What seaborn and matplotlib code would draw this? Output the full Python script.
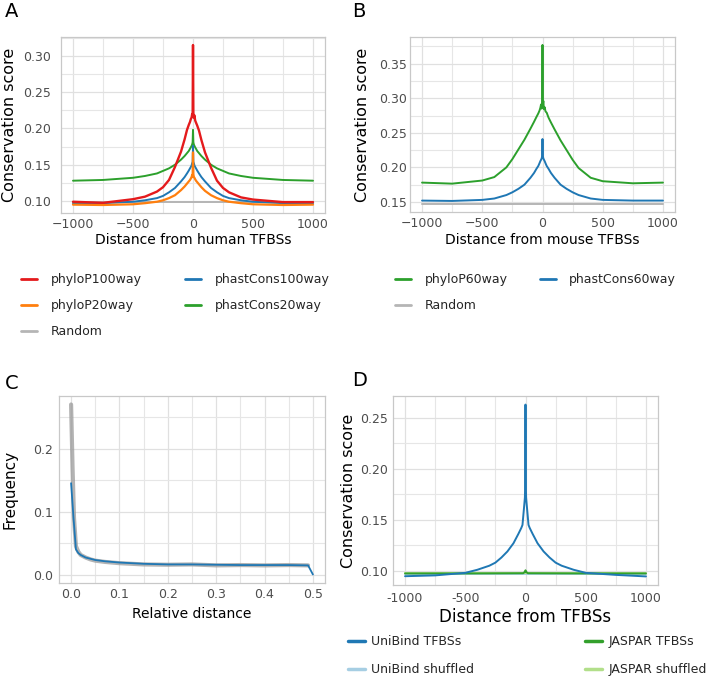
import numpy as np
import pandas as pd
import seaborn as sns
import matplotlib.pyplot as plt
from matplotlib.lines import Line2D
from matplotlib.ticker import MultipleLocator, AutoMinorLocator

# ---- data ----
# panel A / B: distance (bp) from TFBS
A_X = [-1000, -750, -500, -400, -300, -250, -200, -150, -100, -70, -50, -35, -25, -18, -12, -7, -3, 0,
       3, 7, 12, 18, 25, 35, 50, 70, 100, 150, 200, 250, 300, 400, 500, 750, 1000]
A_PHYLOP100 = [0.099, 0.0975, 0.1025, 0.106, 0.113, 0.119, 0.129, 0.147, 0.168, 0.185, 0.198, 0.205, 0.209, 0.213,
               0.215, 0.220, 0.216, 0.315, 0.222, 0.215, 0.218, 0.211, 0.208, 0.204, 0.197, 0.184, 0.167, 0.146,
               0.128, 0.118, 0.112, 0.105, 0.102, 0.0985, 0.0985]
A_PHYLOP20 = [0.095, 0.0945, 0.0955, 0.097, 0.099, 0.101, 0.104, 0.108, 0.115, 0.120, 0.124, 0.127, 0.129, 0.131,
              0.133, 0.136, 0.133, 0.167, 0.137, 0.133, 0.132, 0.130, 0.128, 0.126, 0.123, 0.119, 0.114, 0.108,
              0.104, 0.101, 0.099, 0.097, 0.0955, 0.0945, 0.095]
A_PHASTCONS100 = [0.097, 0.097, 0.099, 0.101, 0.104, 0.107, 0.112, 0.118, 0.127, 0.133, 0.138, 0.142, 0.145, 0.147,
                  0.149, 0.152, 0.154, 0.176, 0.154, 0.152, 0.149, 0.147, 0.145, 0.142, 0.138, 0.133, 0.127, 0.118,
                  0.112, 0.107, 0.104, 0.101, 0.099, 0.097, 0.097]
A_PHASTCONS20 = [0.128, 0.129, 0.132, 0.1345, 0.138, 0.1415, 0.145, 0.150, 0.157, 0.162, 0.166, 0.169, 0.172, 0.174,
                 0.176, 0.178, 0.181, 0.198, 0.181, 0.178, 0.176, 0.174, 0.172, 0.169, 0.166, 0.162, 0.157, 0.150,
                 0.145, 0.1415, 0.138, 0.1345, 0.132, 0.129, 0.128]
RANDOM_X = [-1000, -500, 0, 500, 1000]
A_RANDOM = [0.0985, 0.0985, 0.0985, 0.0985, 0.0985]

B_PHYLOP60 = [0.178, 0.1765, 0.181, 0.186, 0.200, 0.212, 0.226, 0.240, 0.256, 0.266, 0.273, 0.278, 0.282, 0.286,
              0.291, 0.285, 0.294, 0.377, 0.290, 0.296, 0.284, 0.287, 0.281, 0.279, 0.272, 0.265, 0.255, 0.239,
              0.225, 0.211, 0.199, 0.185, 0.180, 0.177, 0.178]
B_PHASTCONS60 = [0.152, 0.1515, 0.153, 0.155, 0.160, 0.164, 0.169, 0.175, 0.185, 0.192, 0.198, 0.202, 0.206, 0.209,
                 0.211, 0.213, 0.216, 0.241, 0.216, 0.213, 0.211, 0.209, 0.206, 0.202, 0.198, 0.192, 0.185, 0.175,
                 0.169, 0.164, 0.160, 0.155, 0.153, 0.152, 0.152]
B_RANDOM = [0.147, 0.147, 0.147, 0.147, 0.147]

# panel C: relative distance
C_X = [0.0, 0.005, 0.01, 0.015, 0.02, 0.03, 0.04, 0.05, 0.07, 0.1, 0.15, 0.2, 0.25, 0.3, 0.35, 0.4, 0.45, 0.49, 0.5]
C_OBSERVED = [0.145, 0.09, 0.04, 0.034, 0.031, 0.027, 0.025, 0.023, 0.021, 0.019, 0.017, 0.016, 0.016, 0.0155,
              0.015, 0.015, 0.015, 0.0145, 0.0]
C_RANDOM_X = [0.0, 0.003, 0.006, 0.01, 0.015, 0.02, 0.03, 0.04, 0.05, 0.07, 0.1, 0.15, 0.2, 0.25, 0.3, 0.35, 0.4,
              0.45, 0.49]
C_RANDOM = [0.27, 0.17, 0.09, 0.045, 0.036, 0.031, 0.027, 0.024, 0.022, 0.020, 0.018, 0.016, 0.0155, 0.016,
            0.0145, 0.015, 0.0145, 0.015, 0.0145]

# panel D
D_X = [-1000, -750, -500, -400, -300, -250, -200, -150, -100, -60, -35, -25, -10, -5, -2, 0,
       2, 5, 10, 25, 35, 60, 100, 150, 200, 250, 300, 400, 500, 750, 1000]
D_UNIBIND = [0.0947, 0.0955, 0.098, 0.101, 0.105, 0.108, 0.113, 0.119, 0.127, 0.136, 0.142, 0.145, 0.165, 0.172,
             0.19, 0.263, 0.19, 0.172, 0.165, 0.145, 0.142, 0.136, 0.127, 0.119, 0.113, 0.108, 0.105, 0.101,
             0.098, 0.096, 0.0945]
D_JASPAR_X = [-1000, -500, -20, -5, 0, 5, 20, 500, 1000]
D_JASPAR = [0.0974, 0.0974, 0.0976, 0.099, 0.1005, 0.099, 0.0976, 0.0974, 0.0974]
D_UNIBIND_SHUF = [0.0968, 0.0968, 0.0968, 0.0968, 0.0968]
D_JASPAR_SHUF = [0.0978, 0.0978, 0.0978, 0.0978, 0.0978]
D_XTICKS = [-1000, -500, 0, 500, 1000]
D_XTICKLABELS = ['-1000', '-500', '0', '500', '1000']

RED, ORANGE, BLUE, GREEN, GREY = '#e41a1c', '#ff7f0e', '#1f77b4', '#2ca02c', '#b5b5b5'

sns.set_theme(style='whitegrid')
plt.rcParams['font.family'] = ['DejaVu Sans']

fig = plt.figure(figsize=(7.09, 6.78), dpi=100)
W, H = 709, 678


def add_ax(left, top, right, bottom):
    return fig.add_axes([left / W, 1 - bottom / H, (right - left) / W, (bottom - top) / H])


def style(ax, ypad, xpad=3.6):
    ax.set_facecolor('white')
    for s in ax.spines.values():
        s.set_color('#c8c8c8')
        s.set_linewidth(0.9)
    ax.xaxis.set_minor_locator(AutoMinorLocator(2))
    ax.yaxis.set_minor_locator(AutoMinorLocator(2))
    ax.grid(which='major', color='#e0e0e0', lw=0.9)
    ax.grid(which='minor', color='#e6e6e6', lw=0.8)
    ax.tick_params(which='both', length=0, labelsize=9, colors='#4d4d4d')
    ax.tick_params(axis='y', pad=ypad)
    ax.tick_params(axis='x', pad=xpad)
    ax.set_axisbelow(True)


def line(ax, x, y, color, lw=1.4, **kw):
    sns.lineplot(x=x, y=y, ax=ax, color=color, lw=lw, estimator=None, sort=False, **kw)


# ---- A ----
axA = add_ax(61, 37, 325, 213)
line(axA, RANDOM_X, A_RANDOM, GREY)
line(axA, A_X, A_PHASTCONS20, GREEN)
line(axA, A_X, A_PHASTCONS100, BLUE)
line(axA, A_X, A_PHYLOP20, ORANGE, lw=1.6)
line(axA, A_X, A_PHYLOP100, RED, lw=1.7)
style(axA, ypad=7.5)
axA.xaxis.set_major_locator(MultipleLocator(500))
axA.yaxis.set_major_locator(MultipleLocator(0.05))
axA.yaxis.set_minor_locator(AutoMinorLocator(2))
axA.xaxis.set_minor_locator(AutoMinorLocator(2))
axA.set_xlabel('Distance from human TFBSs', fontsize=10, color='black')
axA.set_ylabel('Conservation score', fontsize=11.5, color='black')
axA.xaxis.set_label_coords(0.5, -0.114)
axA.yaxis.set_label_coords(-0.165, 0.5)

# ---- B ----
axB = add_ax(410, 37, 675, 212)
line(axB, RANDOM_X, B_RANDOM, GREY)
line(axB, A_X, B_PHASTCONS60, BLUE)
line(axB, A_X, B_PHYLOP60, GREEN)
style(axB, ypad=2)
axB.xaxis.set_major_locator(MultipleLocator(500))
axB.yaxis.set_major_locator(MultipleLocator(0.05))
axB.yaxis.set_minor_locator(AutoMinorLocator(2))
axB.xaxis.set_minor_locator(AutoMinorLocator(2))
axB.set_xlabel('Distance from mouse TFBSs', fontsize=10, color='black')
axB.set_ylabel('Conservation score', fontsize=11.5, color='black')
axB.xaxis.set_label_coords(0.5, -0.12)
axB.yaxis.set_label_coords(-0.15, 0.5)

# ---- C ----
axC = add_ax(59, 396, 325, 583)
line(axC, C_RANDOM_X, C_RANDOM, '#9a9a9a', lw=3.0, alpha=0.75)
line(axC, C_X, C_OBSERVED, BLUE, lw=1.3)
style(axC, ypad=4.5)
axC.xaxis.set_major_locator(MultipleLocator(0.1))
axC.yaxis.set_major_locator(MultipleLocator(0.1))
axC.yaxis.set_minor_locator(AutoMinorLocator(2))
axC.xaxis.set_minor_locator(AutoMinorLocator(2))
axC.set_xlabel('Relative distance', fontsize=10, color='black')
axC.set_ylabel('Frequency', fontsize=11, color='black')
axC.xaxis.set_label_coords(0.5, -0.128)
axC.yaxis.set_label_coords(-0.155, 0.5)

# ---- D ----
PAIRED = sns.color_palette('Paired')
axD = add_ax(393, 396, 658, 585)
line(axD, RANDOM_X, D_UNIBIND_SHUF, PAIRED[0])
line(axD, RANDOM_X, D_JASPAR_SHUF, PAIRED[2])
line(axD, D_JASPAR_X, D_JASPAR, PAIRED[3])
line(axD, D_X, D_UNIBIND, PAIRED[1])
style(axD, ypad=3.5, xpad=5)
axD.set_xticks(D_XTICKS, D_XTICKLABELS)
axD.yaxis.set_major_locator(MultipleLocator(0.05))
axD.yaxis.set_minor_locator(AutoMinorLocator(2))
axD.xaxis.set_minor_locator(AutoMinorLocator(2))
axD.set_xlabel('Distance from TFBSs', fontsize=12, color='black')
axD.set_ylabel('Conservation score', fontsize=11.5, color='black')
axD.xaxis.set_label_coords(0.5, -0.122)
axD.yaxis.set_label_coords(-0.138, 0.5)

# ---- legends ----
def proxies(colors, lw):
    return [Line2D([], [], color=c, lw=lw) for c in colors]

legA = fig.legend(proxies([RED, ORANGE, GREY, BLUE, GREEN], 2),
                  ['phyloP100way', 'phyloP20way', 'Random', 'phastCons100way', 'phastCons20way'],
                  loc='upper left', bbox_to_anchor=(21 / W, 1 - 273 / H), ncol=2, frameon=False,
                  fontsize=9, borderpad=0, borderaxespad=0, handlelength=1.3, handletextpad=1.05,
                  labelspacing=1.05, columnspacing=3.5)
legB = fig.legend(proxies([GREEN, GREY, BLUE], 2),
                  ['phyloP60way', 'Random', 'phastCons60way'],
                  loc='upper left', bbox_to_anchor=(395 / W, 1 - 273 / H), ncol=2, frameon=False,
                  fontsize=9, borderpad=0, borderaxespad=0, handlelength=1.3, handletextpad=1.05,
                  labelspacing=1.05, columnspacing=2.6)
legD = fig.legend(proxies([PAIRED[1], PAIRED[0], PAIRED[3], PAIRED[2]], 2.5),
                  ['UniBind TFBSs', 'UniBind shuffled', 'JASPAR TFBSs', 'JASPAR shuffled'],
                  loc='upper left', bbox_to_anchor=(348 / W, 1 - 635 / H), ncol=2, frameon=False,
                  fontsize=9, borderpad=0, borderaxespad=0, handlelength=1.35, handletextpad=0.5,
                  labelspacing=1.2, columnspacing=8.9)

# ---- panel letters ----
for letter, x, y in [('A', 5, 2), ('B', 352, 2), ('C', 5, 374), ('D', 352, 371)]:
    fig.text(x / W, 1 - y / H, letter, fontsize=14, va='top', ha='left', color='black')

fig.savefig('out.png', dpi=100)
